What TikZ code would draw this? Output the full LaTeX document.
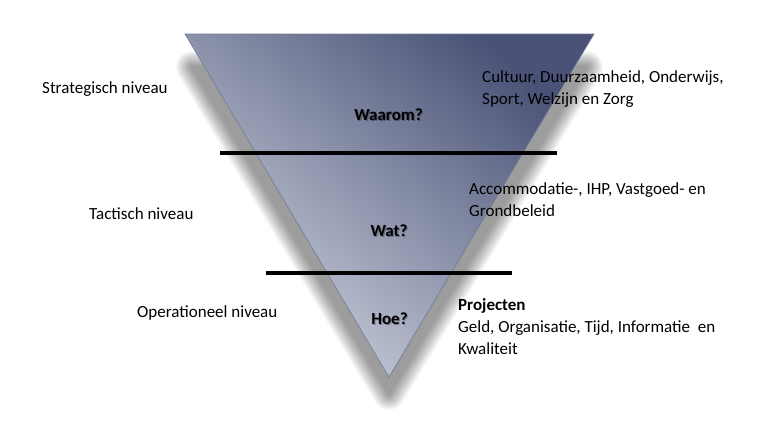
\documentclass[tikz,border=0pt]{standalone}
\usepackage{fontspec}
\setmainfont{Carlito}
\definecolor{triDark}{HTML}{4A5377}
\definecolor{triLight}{HTML}{CDD2DE}
\definecolor{triEdge}{HTML}{6F7A96}
\begin{document}
\begin{tikzpicture}[x=1bp,y=-1bp,
  txt/.style={font=\fontsize{17bp}{22bp}\selectfont, inner sep=0pt, align=left, anchor=base west},
  qlabel/.style={font=\fontsize{17bp}{22bp}\selectfont\bfseries, inner sep=0pt, anchor=base},
  qshadow/.style={qlabel, text=black, opacity=0.3},
  divider/.style={line width=3.5bp, black},
  shadowlayer/.style={draw=black, fill=black, line join=round}]
\useasboundingbox (0,0) rectangle (783,420);
\fill[white] (0,0) rectangle (783,420);
% triangle corners
\coordinate (tl) at (185,34);
\coordinate (tr) at (594,34);
\coordinate (ap) at (389,377);
% soft shadow
\foreach \w in {32,30,...,2} {
  \begin{scope}[transparency group, opacity=0.026]
    \path[shadowlayer, line width=\w bp, shift={(0,15)}] (192,52) -- (587,52) -- (389,379) -- cycle;
  \end{scope}
}
% triangle
\shade[left color=triDark, right color=triLight, shading angle=-40,
  draw=triEdge, line width=0.6bp]
  (tl) -- (tr) -- (ap) -- cycle;
% dividers
\coordinate (l1a) at (220,153);
\coordinate (l1b) at (557,153);
\coordinate (l2a) at (266,273);
\coordinate (l2b) at (512,273);
\draw[divider] (l1a) -- (l1b);
\draw[divider] (l2a) -- (l2b);
% level names
\node[txt] (strat) at (42,93) {Strategisch niveau};
\node[txt] (tact) at (89,219) {Tactisch niveau};
\node[txt] (oper) at (137,317) {Operationeel niveau};
% right descriptions (base = last line)
\node[txt] (cult) at (482,104) {Cultuur, Duurzaamheid, Onderwijs,\\Sport, Welzijn en Zorg};
\node[txt] (acc) at (469,216) {Accommodatie-, IHP, Vastgoed- en\\Grondbeleid};
\node[txt] (proj) at (458,354.5) {\textbf{Projecten}\\Geld, Organisatie, Tijd, Informatie\ \ en\\Kwaliteit};
% questions
\node[qshadow] (waaromS) at (389.7,121.2) {Waarom?};
\node[qlabel] (waarom) at (388.5,120) {Waarom?};
\node[qshadow] (watS) at (390.2,237.2) {Wat?};
\node[qlabel] (wat) at (389,236) {Wat?};
\node[qshadow] (hoeS) at (390.7,325.2) {Hoe?};
\node[qlabel] (hoe) at (389.5,324) {Hoe?};
\end{tikzpicture}
\end{document}
